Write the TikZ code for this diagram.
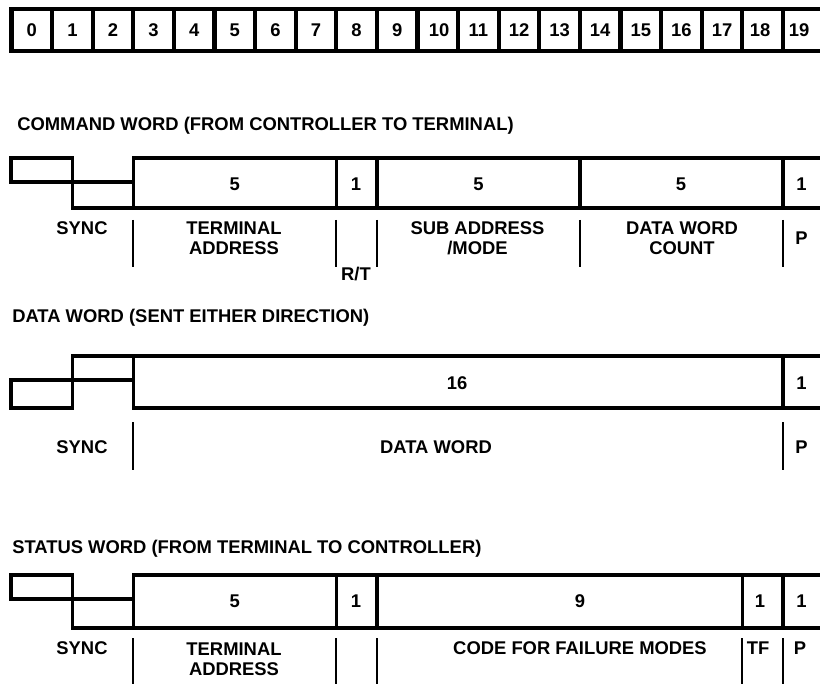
\documentclass[tikz,border=0pt]{standalone}
\usepackage{fontspec}
\setmainfont{Liberation Sans}

\begin{document}
\begin{tikzpicture}[x=0.75pt,y=0.75pt,yscale=-1,xscale=1,
  every node/.style={font=\bfseries\fontsize{13.8}{15}\selectfont,inner sep=0.75pt,align=center},
  bitcell/.style={line width=3.2pt},
  wordline/.style={line width=2.5pt},
  sepline/.style={line width=1.5pt},
  wordtitle/.style={anchor=base west}]
\useasboundingbox (0,0) rectangle (820,684);
\clip (0,0) rectangle (820,684);

%Bit numbers
\draw[bitcell] (11.5,9) rectangle (52.1,51);   \node (b0) at (31.8,30) {0};
\draw[bitcell] (52.1,9) rectangle (92.7,51);   \node (b1) at (72.4,30) {1};
\draw[bitcell] (92.7,9) rectangle (133.3,51);  \node (b2) at (113.0,30) {2};
\draw[bitcell] (133.3,9) rectangle (173.9,51); \node (b3) at (153.6,30) {3};
\draw[bitcell] (173.9,9) rectangle (214.5,51); \node (b4) at (194.2,30) {4};
\draw[bitcell] (214.5,9) rectangle (255.1,51); \node (b5) at (234.8,30) {5};
\draw[bitcell] (255.1,9) rectangle (295.7,51); \node (b6) at (275.4,30) {6};
\draw[bitcell] (295.7,9) rectangle (336.3,51); \node (b7) at (316.0,30) {7};
\draw[bitcell] (336.3,9) rectangle (376.9,51); \node (b8) at (356.6,30) {8};
\draw[bitcell] (376.9,9) rectangle (417.5,51); \node (b9) at (397.2,30) {9};
\draw[bitcell] (417.5,9) rectangle (458.1,51); \node (b10) at (439,30) {10};
\draw[bitcell] (458.1,9) rectangle (498.7,51); \node (b11) at (478.4,30) {11};
\draw[bitcell] (498.7,9) rectangle (539.3,51); \node (b12) at (519.0,30) {12};
\draw[bitcell] (539.3,9) rectangle (579.9,51); \node (b13) at (559.6,30) {13};
\draw[bitcell] (579.9,9) rectangle (620.5,51); \node (b14) at (600.2,30) {14};
\draw[bitcell] (620.5,9) rectangle (661.1,51); \node (b15) at (640.8,30) {15};
\draw[bitcell] (661.1,9) rectangle (701.7,51); \node (b16) at (681.4,30) {16};
\draw[bitcell] (701.7,9) rectangle (742.3,51); \node (b17) at (722.0,30) {17};
\draw[bitcell] (742.3,9) rectangle (782.9,51); \node (b18) at (760,30) {18};
\draw[bitcell] (782.9,9) rectangle (823.5,51); \node (b19) at (799,30) {19};

%Command word
\node[wordtitle] (cmdtitle) at (16,131) {COMMAND WORD (FROM CONTROLLER TO TERMINAL)};
\draw[wordline] (11,158) rectangle (72.6,182);
\draw[wordline] (72.6,182) rectangle (133.3,208);
\draw[wordline] (133.3,158) rectangle (840,208);
\draw[wordline] (336.3,158) -- (336.3,208);
\draw[wordline] (376.9,158) -- (376.9,208);
\draw[wordline] (579.9,158) -- (579.9,208);
\draw[wordline] (782.9,158) -- (782.9,208);
\node (cmdta) at (234.8,184) {5};
\node (cmdrt) at (356,184) {1};
\node (cmdsa) at (478.4,184) {5};
\node (cmdwc) at (681,184) {5};
\node (cmdp) at (801.5,184) {1};
\draw[sepline] (133.3,220) -- (133.3,267);
\draw[sepline] (336.3,220) -- (336.3,267);
\draw[sepline] (376.9,220) -- (376.9,267);
\draw[sepline] (579.9,220) -- (579.9,267);
\draw[sepline] (782.9,220) -- (782.9,267);
\node (cmdsync) at (82,228) {SYNC};
\node (cmdtalbl) at (234,238) {TERMINAL\\ADDRESS};
\node (cmdrtlbl) at (356,274) {R/T};
\node (cmdsalbl) at (477.5,238) {SUB ADDRESS\\/MODE};
\node (cmdwclbl) at (682,238) {DATA WORD\\COUNT};
\node (cmdplbl) at (801.5,238) {P};

%Data word
\node[wordtitle] (dattitle) at (11,322) {DATA WORD (SENT EITHER DIRECTION)};
\draw[wordline] (72.6,356) rectangle (133.3,380);
\draw[wordline] (11,380) rectangle (72.6,408);
\draw[wordline] (133.3,356) rectangle (840,408);
\draw[wordline] (782.9,356) -- (782.9,408);
\node (datval) at (457,383) {16};
\node (datp) at (801.5,383) {1};
\draw[sepline] (133.3,422) -- (133.3,470);
\draw[sepline] (782.9,422) -- (782.9,470);
\node (datsync) at (82,447) {SYNC};
\node (datlbl) at (436,447) {DATA WORD};
\node (datplbl) at (801.5,447) {P};

%Status word
\node[wordtitle] (sttitle) at (11,553) {STATUS WORD (FROM TERMINAL TO CONTROLLER)};
\draw[wordline] (11,575) rectangle (72.6,599);
\draw[wordline] (72.6,599) rectangle (133.3,628);
\draw[wordline] (133.3,575) rectangle (840,628);
\draw[wordline] (336.3,575) -- (336.3,628);
\draw[wordline] (376.9,575) -- (376.9,628);
\draw[wordline] (742.3,575) -- (742.3,628);
\draw[wordline] (782.9,575) -- (782.9,628);
\node (stta) at (234.8,601) {5};
\node (stbit) at (356,601) {1};
\node (stcode) at (580,601) {9};
\node (sttf) at (760,601) {1};
\node (stp) at (801.5,601) {1};
\draw[sepline] (133.3,638) -- (133.3,690);
\draw[sepline] (336.3,638) -- (336.3,690);
\draw[sepline] (376.9,638) -- (376.9,690);
\draw[sepline] (742.3,638) -- (742.3,690);
\draw[sepline] (782.9,638) -- (782.9,690);
\node (stsync) at (82,648) {SYNC};
\node (sttalbl) at (234,659) {TERMINAL\\ADDRESS};
\node (stcodelbl) at (580,648) {CODE FOR FAILURE MODES};
\node (sttflbl) at (758,648) {TF};
\node (stplbl) at (800,648) {P};

\end{tikzpicture}
\end{document}
